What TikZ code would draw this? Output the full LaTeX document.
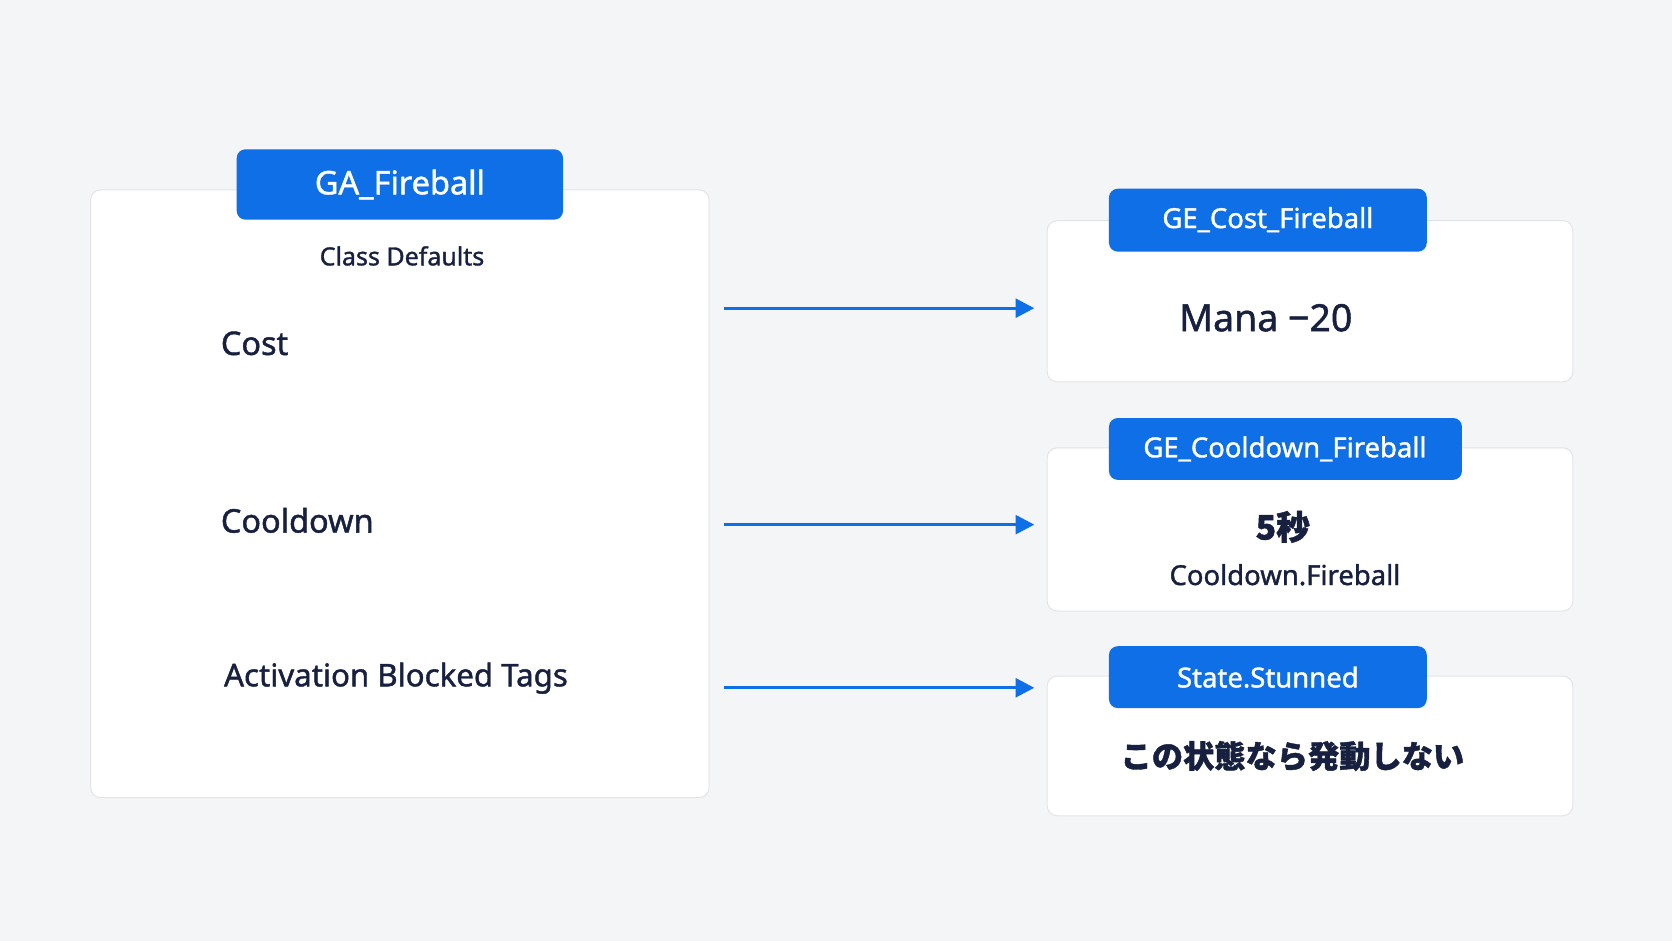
\documentclass[tikz,border=0pt]{standalone}
\usepackage{fontspec}
\setmainfont{Noto Sans}[FakeBold=1.3,AutoFakeBold=1.3]
\newfontfamily\med{Noto Sans}[FakeBold=1.3]
\newfontfamily\cjk{Noto Sans CJK JP}[FakeBold=1.3]
\usetikzlibrary{arrows.meta}
\definecolor{bg}{HTML}{F4F5F6}
\definecolor{bl}{HTML}{0F6FE6}
\definecolor{ink}{HTML}{17203F}
\definecolor{bd}{HTML}{E2E4E8}
\begin{document}
\begin{tikzpicture}[x=0.03cm,y=-0.03cm,
  card/.style={draw=bd,line width=0.8pt,fill=white,rounded corners=8pt},
  badge/.style={fill=bl,rounded corners=7pt},
  btxt/.style={text=white,font=\fontsize{22}{26}\selectfont\bfseries},
  lbl/.style={text=ink,anchor=west,font=\fontsize{26}{32}\selectfont\bfseries},
  arr/.style={draw=bl,line width=2.6pt,-{Triangle[length=15pt,width=15pt]}}]
\fill[bg] (0,0) rectangle (1568,882);
\useasboundingbox (0,0) rectangle (1568,882);
% left card
\draw[card] (85,178) rectangle (665,748);
\fill[badge] (222,140) rectangle (528,206);
\node[btxt,font=\fontsize{26}{30}\selectfont\bfseries] (ga) at (375,173) {GA\_Fireball};
\node[text=ink,font=\fontsize{20}{25}\selectfont\bfseries] (cd) at (377,240) {Class Defaults};
\node[lbl] (cost) at (203,322) {Cost};
\node[lbl] (cool) at (203,488) {Cooldown};
\node[lbl,font=\fontsize{25}{30}\selectfont\bfseries] (abt) at (206,636) {Activation Blocked Tags};
% right cards
\draw[card] (982,207) rectangle (1475,358);
\fill[badge] (1040,177) rectangle (1338,236);
\node[btxt] (gec) at (1189,206) {GE\_Cost\_Fireball};
\node[text=ink,font=\fontsize{30}{36}\selectfont\bfseries] (mana) at (1187,298) {Mana −20};
\draw[card] (982,420) rectangle (1475,573);
\fill[badge] (1040,392) rectangle (1371,450);
\node[btxt] (gecd) at (1205,421) {GE\_Cooldown\_Fireball};
\node[text=ink,font=\fontsize{27}{32}\selectfont\cjk\bfseries] (sec) at (1203,494) {5秒};
\node[text=ink,font=\fontsize{22}{26}\selectfont\bfseries] (cdf) at (1205,539) {Cooldown.Fireball};
\draw[card] (982,634) rectangle (1475,765);
\fill[badge] (1040,606) rectangle (1338,664);
\node[btxt] (st) at (1189,635) {State.Stunned};
\node[text=ink,font=\fontsize{25}{30}\selectfont\cjk\bfseries] (jp) at (1212,709) {この状態なら発動しない};
% arrows
\coordinate (a1) at (679,289); \coordinate (b1) at (970,289);
\coordinate (a2) at (679,492); \coordinate (b2) at (970,492);
\coordinate (a3) at (679,645); \coordinate (b3) at (970,645);
\draw[arr] (a1) -- (b1);
\draw[arr] (a2) -- (b2);
\draw[arr] (a3) -- (b3);
\end{tikzpicture}
\end{document}
